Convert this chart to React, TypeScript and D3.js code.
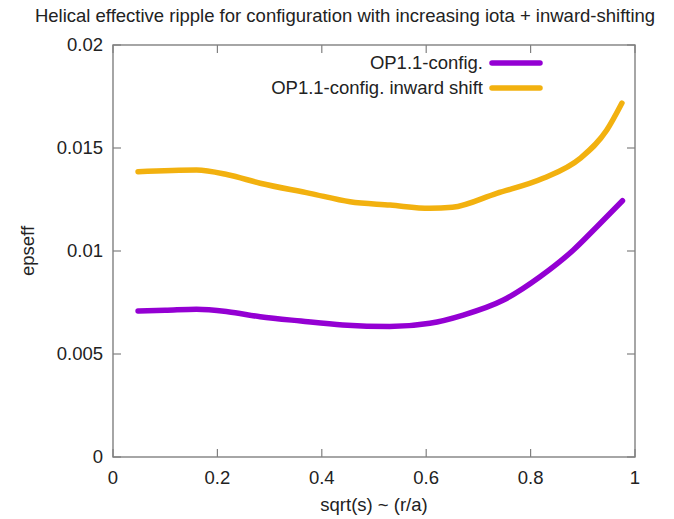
import React from "react";
import * as d3 from "d3";

const title = "Helical effective ripple for configuration with increasing iota + inward-shifting";
const xTicks = [0, 0.2, 0.4, 0.6, 0.8, 1];
const yTicks = [0, 0.005, 0.01, 0.015, 0.02];
const yTickLabels = ["0", "0.005", "0.01", "0.015", "0.02"];
const xTickLabels = ["0", "0.2", "0.4", "0.6", "0.8", "1"];

const seriesNames = ["OP1.1-config.", "OP1.1-config. inward shift"];
const seriesColors = ["#9400d3", "#f2b10f"];

const purpleX = [0.048, 0.1, 0.16, 0.22, 0.282, 0.36, 0.44, 0.53, 0.607, 0.671, 0.748, 0.818, 0.882, 0.927, 0.976];
const purpleY = [0.00709, 0.00712, 0.00717, 0.00705, 0.00681, 0.0066, 0.00641, 0.00633, 0.00649, 0.00689, 0.00762, 0.00875, 0.01005, 0.01118, 0.01244];

const orangeX = [0.048, 0.16, 0.22, 0.282, 0.377, 0.454, 0.531, 0.607, 0.65, 0.735, 0.824, 0.895, 0.946, 0.975];
const orangeY = [0.01385, 0.01393, 0.0137, 0.01329, 0.0128, 0.01239, 0.01223, 0.01207, 0.01212, 0.0128, 0.01353, 0.0145, 0.01587, 0.01718];

export default function App() {
  const W = 674, H = 519;
  const left = 113, right = 635, top = 45, bottom = 457;
  const x = d3.scaleLinear().domain([0, 1]).range([left, right]);
  const y = d3.scaleLinear().domain([0, 0.02]).range([bottom, top]);
  const line = d3
    .line<[number, number]>()
    .x((d) => x(d[0]))
    .y((d) => y(d[1]))
    .curve(d3.curveMonotoneX);
  const series = [
    purpleX.map((v, i) => [v, purpleY[i]] as [number, number]),
    orangeX.map((v, i) => [v, orangeY[i]] as [number, number]),
  ];
  const font = "'Liberation Sans', Arial, sans-serif";
  const axisColor = "#808080";
  const tl = 8;
  const fs = 18.5;
  return (
    <svg width={W} height={H} style={{ position: "absolute", left: 0, top: 0, background: "#fff" }} fontFamily={font}>
      <rect x={0} y={0} width={W} height={H} fill="#fff" />
      <text x={345} y={22} textAnchor="middle" fontSize={fs} fill="#222">{title}</text>
      {yTicks.map((t, i) => (
        <g key={"y" + i}>
          <line x1={left} x2={left + tl} y1={y(t)} y2={y(t)} stroke={axisColor} strokeWidth={1.2} />
          <line x1={right} x2={right - tl} y1={y(t)} y2={y(t)} stroke={axisColor} strokeWidth={1.2} />
          <text x={left - 10} y={y(t)} dy="0.35em" textAnchor="end" fontSize={fs} fill="#222">{yTickLabels[i]}</text>
        </g>
      ))}
      {xTicks.map((t, i) => (
        <g key={"x" + i}>
          <line x1={x(t)} x2={x(t)} y1={bottom} y2={bottom - tl} stroke={axisColor} strokeWidth={1.2} />
          <line x1={x(t)} x2={x(t)} y1={top} y2={top + tl} stroke={axisColor} strokeWidth={1.2} />
          <text x={x(t)} y={bottom + 27} textAnchor="middle" fontSize={fs} fill="#222">{xTickLabels[i]}</text>
        </g>
      ))}
      <rect x={left} y={top} width={right - left} height={bottom - top} fill="none" stroke={axisColor} strokeWidth={1.4} />
      <text transform={`translate(34,${(top + bottom) / 2}) rotate(-90)`} textAnchor="middle" fontSize={fs} fill="#222">epseff</text>
      <text x={(left + right) / 2} y={511} textAnchor="middle" fontSize={fs} fill="#222">sqrt(s) ~ (r/a)</text>
      {series.map((s, i) => (
        <path key={"s" + i} d={line(s) || ""} fill="none" stroke={seriesColors[i]} strokeWidth={5.5} strokeLinecap="round" strokeLinejoin="round" />
      ))}
      {seriesNames.map((n, i) => (
        <g key={"l" + i}>
          <text x={483} y={63 + i * 25} dy="0.35em" textAnchor="end" fontSize={fs} fill="#222">{n}</text>
          <line x1={492} x2={540} y1={63 + i * 25} y2={63 + i * 25} stroke={seriesColors[i]} strokeWidth={5.5} strokeLinecap="round" />
        </g>
      ))}
    </svg>
  );
}
